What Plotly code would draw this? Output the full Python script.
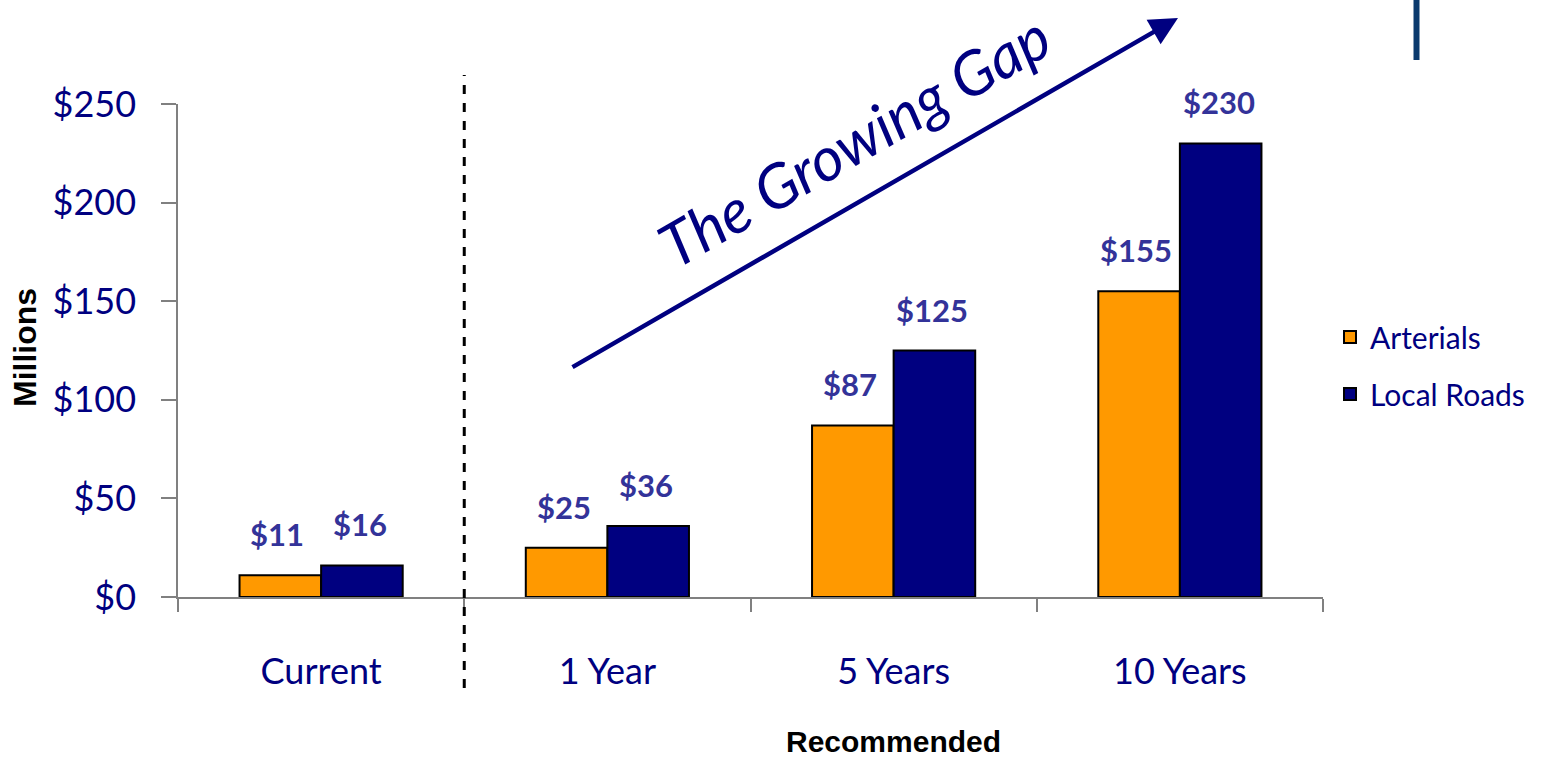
import plotly.graph_objects as go

categories = ["Current", "1 Year", "5 Years", "10 Years"]
arterials = [11, 25, 87, 155]
local_roads = [16, 36, 125, 230]
y_tickvals = [0, 50, 100, 150, 200, 250]
y_ticktext = ["$0", "$50", "$100", "$150", "$200", "$250"]

NAVY = "#000080"
ORANGE = "#FF9900"
LABEL = "#333399"
FONT = "Lato, 'Open Sans', sans-serif"

W, H = 1547, 757
L, R, T, B = 178, 224, 104, 160
PW, PH = W - L - R, H - T - B


def px(x):
    return (x - L) / PW


def py(y):
    return (H - B - y) / PH


fig = go.Figure()
fig.add_trace(go.Bar(name="Arterials", x=categories, y=arterials,
                     marker=dict(color=ORANGE, line=dict(color="black", width=2)),
                     legendgroup="a"))
fig.add_trace(go.Bar(name="Local Roads", x=categories, y=local_roads,
                     marker=dict(color=NAVY, line=dict(color="black", width=2)),
                     legendgroup="b"))

bargap = 0.43
bar_px = PW / len(categories) * (1 - bargap) / 2

annotations = []
for cat, a, b in zip(categories, arterials, local_roads):
    for val, sh in ((a, -bar_px / 2 - 3), (b, bar_px / 2 - 2)):
        annotations.append(dict(x=cat, y=val, xref="x", yref="y", text=f"${val}",
                                showarrow=False, xshift=sh, yshift=41,
                                xanchor="center", yanchor="middle",
                                font=dict(family=FONT, size=31, color=LABEL, weight="bold")))

# Growing gap arrow and text
annotations.append(dict(x=px(1178), y=py(18), xref="paper", yref="paper",
                        ax=-607, ay=350, axref="pixel", ayref="pixel",
                        showarrow=True, arrowhead=2, arrowsize=1.25, arrowwidth=4.5,
                        arrowcolor=NAVY, text=""))
annotations.append(dict(x=px(853), y=py(140), xref="paper", yref="paper",
                        xanchor="center", yanchor="middle",
                        text="<i>The Growing Gap</i>", textangle=-30, showarrow=False,
                        font=dict(family=FONT, size=61, color=NAVY)))
annotations.append(dict(x=px(25), y=py(348), xref="paper", yref="paper",
                        xanchor="center", yanchor="middle",
                        text="<b>Millions</b>", textangle=-90, showarrow=False,
                        font=dict(family="Liberation Sans, Arial, sans-serif", size=32, color="black")))
annotations.append(dict(x=px(893), y=py(741), xref="paper", yref="paper",
                        xanchor="center", yanchor="middle",
                        text="<b>Recommended</b>", showarrow=False,
                        font=dict(family="Liberation Sans, Arial, sans-serif", size=30, color="black")))

shapes = [
    dict(type="line", xref="x", yref="paper", x0=0.5, x1=0.5, y0=py(688), y1=py(75),
         line=dict(color="black", width=3, dash="dash")),
    dict(type="line", xref="paper", yref="paper", x0=px(1416.5), x1=px(1416.5),
         y0=py(60), y1=py(0), line=dict(color="#0B3A6E", width=6)),
]

fig.update_layout(
    width=W, height=H,
    margin=dict(l=L, r=R, t=T, b=B, pad=0),
    paper_bgcolor="white", plot_bgcolor="white",
    barmode="group", bargap=bargap, bargroupgap=0,
    font=dict(family=FONT, color=NAVY),
    showlegend=True,
    legend=dict(x=px(1330), y=py(311), xanchor="left", yanchor="top",
                font=dict(family=FONT, size=30, color=NAVY),
                tracegroupgap=15, bgcolor="rgba(0,0,0,0)"),
    annotations=annotations,
    shapes=shapes,
)
fig.update_xaxes(type="category", showline=True, linecolor="#808080", linewidth=1.5,
                 ticks="outside", tickson="boundaries", ticklen=13, tickcolor="#808080",
                 tickwidth=1.5, showgrid=False, zeroline=False,
                 tickfont=dict(family=FONT, size=36, color=NAVY), ticklabelstandoff=42)
fig.update_yaxes(range=[0, 250], tickvals=y_tickvals, ticktext=y_ticktext,
                 showline=True, linecolor="#808080", linewidth=1.5,
                 ticks="outside", ticklen=15, tickcolor="#808080", tickwidth=1.5,
                 showgrid=False, zeroline=False,
                 tickfont=dict(family=FONT, size=36, color=NAVY), ticklabelstandoff=18)

fig.write_html("out.html", config={"displayModeBar": False},
               post_script="document.body.style.margin='0';")
